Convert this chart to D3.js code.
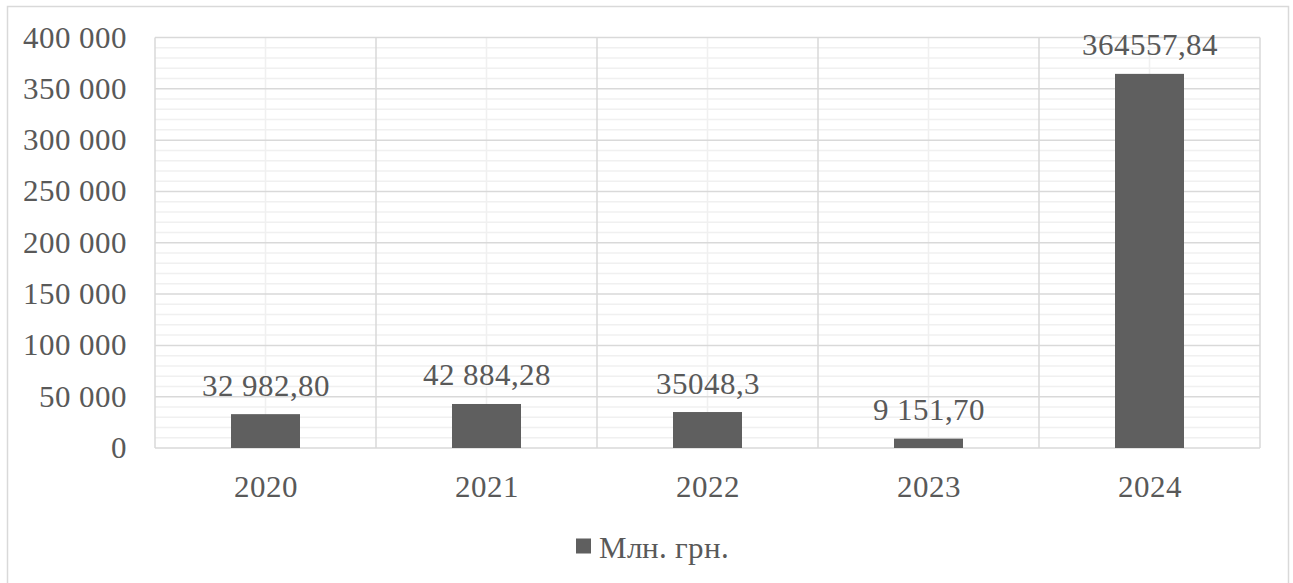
<!DOCTYPE html>
<html>
<head>
<meta charset="utf-8">
<script src="https://cdn.jsdelivr.net/npm/d3@7"></script>
<style>
  @font-face {
    font-family: "ChartSerif";
    src: local("Liberation Serif"), local("LiberationSerif"), local("Liberation Serif Regular"), local("Tinos"), local("Times New Roman");
  }
  html, body { margin: 0; padding: 0; background: #fff; }
  svg { display: block; }
  svg text { font-family: "ChartSerif", "Liberation Serif", serif !important; }
</style>
</head>
<body>
<svg id="chart" width="1293" height="583"></svg>
<script>
// Annual totals, millions of hryvnias
const years = ["2020", "2021", "2022", "2023", "2024"];
const values = [32982.80, 42884.28, 35048.3, 9151.70, 364557.84];
const valueLabels = ["32 982,80", "42 884,28", "35048,3", "9 151,70", "364557,84"];
const yTicks = [0, 50000, 100000, 150000, 200000, 250000, 300000, 350000, 400000];
const yTickLabels = ["0", "50 000", "100 000", "150 000", "200 000", "250 000", "300 000", "350 000", "400 000"];
const seriesName = "Млн. грн.";

const svg = d3.select("#chart");
const plot = { left: 155, right: 1260, top: 37.5, bottom: 448 };
const fontSize = 31;
const textColor = "#595959";

// Shared text styling: serif face, grey ink
function styleText(sel) {
  return sel
    .attr("font-family", "Liberation Serif")
    .attr("font-size", fontSize)
    .attr("fill", textColor);
}

// Outer chart frame
svg.append("rect")
  .attr("x", 7.5).attr("y", 6.5)
  .attr("width", 1281).attr("height", 590)
  .attr("fill", "#fff").attr("stroke", "#d9d9d9").attr("stroke-width", 1.5);

const x = d3.scaleBand().domain(years).range([plot.left, plot.right]).paddingInner(0).paddingOuter(0);
const y = d3.scaleLinear().domain([0, 400000]).range([plot.bottom, plot.top]);

const grid = svg.append("g");

// Minor horizontal gridlines every 10 000
const minor = d3.range(0, 400001, 10000).filter(v => v % 50000 !== 0);
grid.selectAll("line.hminor").data(minor).join("line")
  .attr("x1", plot.left).attr("x2", plot.right)
  .attr("y1", d => y(d)).attr("y2", d => y(d))
  .attr("stroke", "#f0f0f0").attr("stroke-width", 1.5);

// Minor vertical gridlines at category centres
grid.selectAll("line.vminor").data(years).join("line")
  .attr("x1", d => x(d) + x.bandwidth() / 2).attr("x2", d => x(d) + x.bandwidth() / 2)
  .attr("y1", plot.top).attr("y2", plot.bottom)
  .attr("stroke", "#f0f0f0").attr("stroke-width", 1.5);

// Major horizontal gridlines
grid.selectAll("line.hmajor").data(yTicks).join("line")
  .attr("x1", plot.left).attr("x2", plot.right)
  .attr("y1", d => y(d)).attr("y2", d => y(d))
  .attr("stroke", "#d9d9d9").attr("stroke-width", 1.5);

// Major vertical gridlines at category boundaries
const bounds = years.map(d => x(d)).concat([plot.right]);
grid.selectAll("line.vmajor").data(bounds).join("line")
  .attr("x1", d => d).attr("x2", d => d)
  .attr("y1", plot.top).attr("y2", plot.bottom)
  .attr("stroke", "#d9d9d9").attr("stroke-width", 1.5);

// Bars
const barW = 69;
svg.append("g").selectAll("rect").data(values).join("rect")
  .attr("x", (d, i) => x(years[i]) + x.bandwidth() / 2 - barW / 2)
  .attr("width", barW)
  .attr("y", d => y(d))
  .attr("height", d => y(0) - y(d))
  .attr("fill", "#5f5f5f");

// Value labels above bars
svg.append("g").selectAll("text").data(values).join("text")
  .attr("x", (d, i) => x(years[i]) + x.bandwidth() / 2)
  .attr("y", d => y(d) - 18.5)
  .attr("text-anchor", "middle")
  .call(styleText)
  .text((d, i) => valueLabels[i]);

// Y axis labels
svg.append("g").selectAll("text").data(yTicks).join("text")
  .attr("x", 127)
  .attr("y", d => y(d) + 10)
  .attr("text-anchor", "end")
  .call(styleText)
  .text((d, i) => yTickLabels[i]);

// X axis labels
svg.append("g").selectAll("text").data(years).join("text")
  .attr("x", d => x(d) + x.bandwidth() / 2)
  .attr("y", 497)
  .attr("text-anchor", "middle")
  .call(styleText)
  .text(d => d);

// Legend
const legend = svg.append("g");
legend.append("rect")
  .attr("x", 576).attr("y", 538.5).attr("width", 15).attr("height", 15)
  .attr("fill", "#5f5f5f");
legend.append("text")
  .attr("x", 599).attr("y", 558)
  .call(styleText)
  .text(seriesName);
</script>
</body>
</html>
